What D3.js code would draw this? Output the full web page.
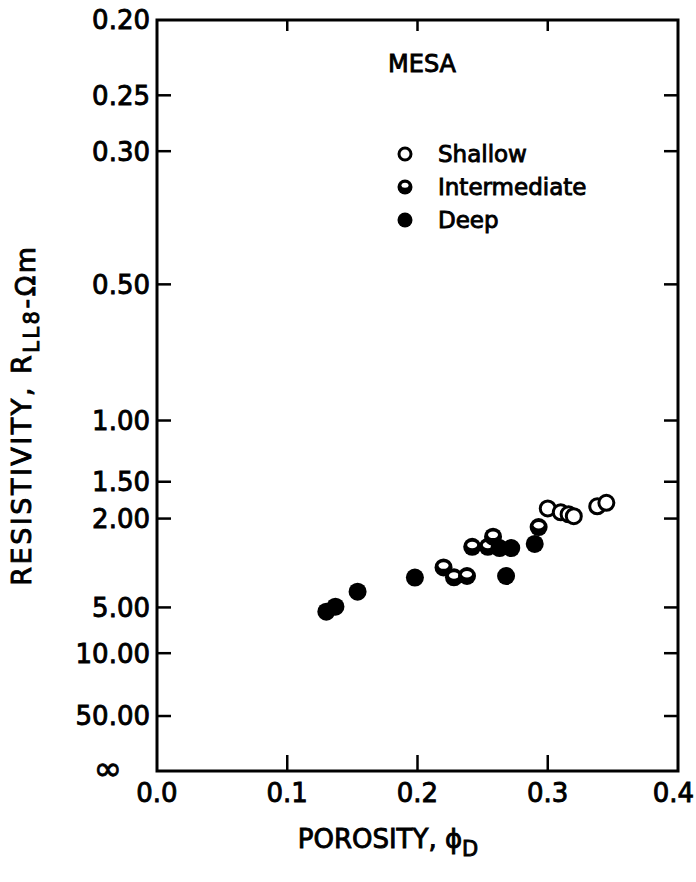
<!DOCTYPE html>
<html>
<head>
<meta charset="utf-8">
<script src="https://cdn.jsdelivr.net/npm/d3@7"></script>
<style>
  body { margin: 0; background: #fff; }
  text { font-family: "DejaVu Sans", sans-serif; fill: #000; stroke: #000; stroke-width: 0.9px; }
</style>
</head>
<body>
<svg id="chart" width="696" height="882"></svg>
<script>
const width = 696, height = 882;
const svg = d3.select("#chart");

// axis ticks
const porosityTicks = [0.0, 0.1, 0.2, 0.3, 0.4];
const porosityLabels = ["0.0", "0.1", "0.2", "0.3", "0.4"];
const resistivityTicks = [0.20, 0.25, 0.30, 0.50, 1.00, 1.50, 2.00, 5.00, 10.00, 50.00, Infinity];
const resistivityLabels = ["0.20", "0.25", "0.30", "0.50", "1.00", "1.50", "2.00", "5.00", "10.00", "50.00", "∞"];

// data (porosity, resistivity)
const shallowPhi = [0.300, 0.310, 0.316, 0.320, 0.338, 0.345];
const shallowR   = [1.84, 1.90, 1.93, 1.96, 1.81, 1.76];
const interPhi   = [0.220, 0.228, 0.238, 0.242, 0.254, 0.258, 0.293];
const interR     = [3.15, 3.50, 3.45, 2.57, 2.57, 2.34, 2.15];
const deepPhi    = [0.130, 0.137, 0.154, 0.198, 0.268, 0.290, 0.263, 0.272];
const deepR      = [5.29, 4.95, 4.12, 3.51, 3.45, 2.50, 2.60, 2.60];

const legendItems = ["Shallow", "Intermediate", "Deep"];

const plotLeft = 157, plotRight = 678, plotTop = 20, plotBottom = 771;

// Hingle-style axis: y ~ R^(-1/m), m ~ 2.11
const x = d3.scaleLinear().domain([0, 0.4]).range([plotLeft, plotRight]);
const y = d3.scalePow().exponent(-0.4735).domain([0.2, Infinity]).range([plotTop, plotBottom]);

// frame
svg.append("rect")
  .attr("x", plotLeft).attr("y", plotTop)
  .attr("width", plotRight - plotLeft).attr("height", plotBottom - plotTop)
  .attr("fill", "none").attr("stroke", "#000").attr("stroke-width", 3);

// y ticks, left and right, inward
const yInner = resistivityTicks.filter(d => d !== 0.2 && d !== Infinity);
svg.selectAll(".ytl").data(yInner).join("line")
  .attr("class", "ytl")
  .attr("x1", plotLeft).attr("x2", plotLeft + 14)
  .attr("y1", d => y(d)).attr("y2", d => y(d))
  .attr("stroke", "#000").attr("stroke-width", 2.5);
svg.selectAll(".ytr").data(yInner).join("line")
  .attr("class", "ytr")
  .attr("x1", plotRight).attr("x2", plotRight - 14)
  .attr("y1", d => y(d)).attr("y2", d => y(d))
  .attr("stroke", "#000").attr("stroke-width", 2.5);

svg.selectAll(".ylab").data(resistivityTicks).join("text")
  .attr("class", "ylab")
  .attr("x", d => d === Infinity ? 122 : 150)
  .attr("y", d => y(d))
  .attr("dy", d => d === Infinity ? "0.25em" : "0.36em")
  .attr("text-anchor", "end")
  .attr("font-size", d => d === Infinity ? 34 : 26)
  .text((d, i) => resistivityLabels[i]);

// x ticks, top and bottom, inward
const xInner = porosityTicks.slice(1, -1);
svg.selectAll(".xtb").data(xInner).join("line")
  .attr("class", "xtb")
  .attr("x1", d => x(d)).attr("x2", d => x(d))
  .attr("y1", plotBottom).attr("y2", plotBottom - 16)
  .attr("stroke", "#000").attr("stroke-width", 2.5);
svg.selectAll(".xtt").data(xInner).join("line")
  .attr("class", "xtt")
  .attr("x1", d => x(d)).attr("x2", d => x(d))
  .attr("y1", plotTop).attr("y2", plotTop + 11)
  .attr("stroke", "#000").attr("stroke-width", 2.5);

svg.selectAll(".xlab").data(porosityTicks).join("text")
  .attr("class", "xlab")
  .attr("x", (d, i) => i === porosityTicks.length - 1 ? x(d) + 16 : x(d))
  .attr("y", 802)
  .attr("text-anchor", (d, i) => i === porosityTicks.length - 1 ? "end" : "middle")
  .attr("font-size", 26)
  .text((d, i) => porosityLabels[i]);

// axis titles
const yt = svg.append("text")
  .attr("transform", "translate(31,415) rotate(-90)")
  .attr("text-anchor", "middle")
  .attr("letter-spacing", 2.5)
  .attr("font-size", 27);
yt.append("tspan").text("RESISTIVITY,  R");
yt.append("tspan").attr("dy", 8).attr("font-size", 21).text("LL8");
yt.append("tspan").attr("dy", -4).text("-Ωm");

const xt = svg.append("text")
  .attr("x", 388).attr("y", 848)
  .attr("text-anchor", "middle")
  .attr("font-size", 26);
xt.append("tspan").text("POROSITY,  ϕ");
xt.append("tspan").attr("dy", 8).attr("font-size", 21).text("D");

// title
svg.append("text")
  .attr("x", 422).attr("y", 72)
  .attr("text-anchor", "middle")
  .attr("font-size", 24)
  .text("MESA");

// markers
function drawOpen(g, r) {
  g.append("circle").attr("r", r).attr("fill", "#fff")
    .attr("stroke", "#000").attr("stroke-width", 3);
}
function drawHalf(g, r) {
  g.append("circle").attr("r", r + 1.5).attr("fill", "#000");
  g.append("ellipse").attr("cy", -1.8).attr("rx", r - 2.5).attr("ry", r / 2 - 0.5)
    .attr("fill", "#fff");
}
function drawFull(g, r) {
  g.append("circle").attr("r", r + 1.5).attr("fill", "#000");
}
const drawers = [drawOpen, drawHalf, drawFull];

const series = [
  d3.zip(shallowPhi, shallowR),
  d3.zip(interPhi, interR),
  d3.zip(deepPhi, deepR)
];

series.forEach((pts, k) => {
  svg.append("g").selectAll("g").data(pts).join("g")
    .attr("transform", d => `translate(${x(d[0])},${y(d[1])})`)
    .each(function() { drawers[k](d3.select(this), 7.5); });
});

// legend
const legend = svg.append("g");
legendItems.forEach((name, i) => {
  const row = legend.append("g").attr("transform", `translate(405,${154 + i * 33})`);
  drawers[i](row.append("g"), 6);
  row.append("text").attr("x", 33).attr("dy", "0.36em")
    .attr("font-size", 23).text(name);
});
</script>
</body>
</html>
